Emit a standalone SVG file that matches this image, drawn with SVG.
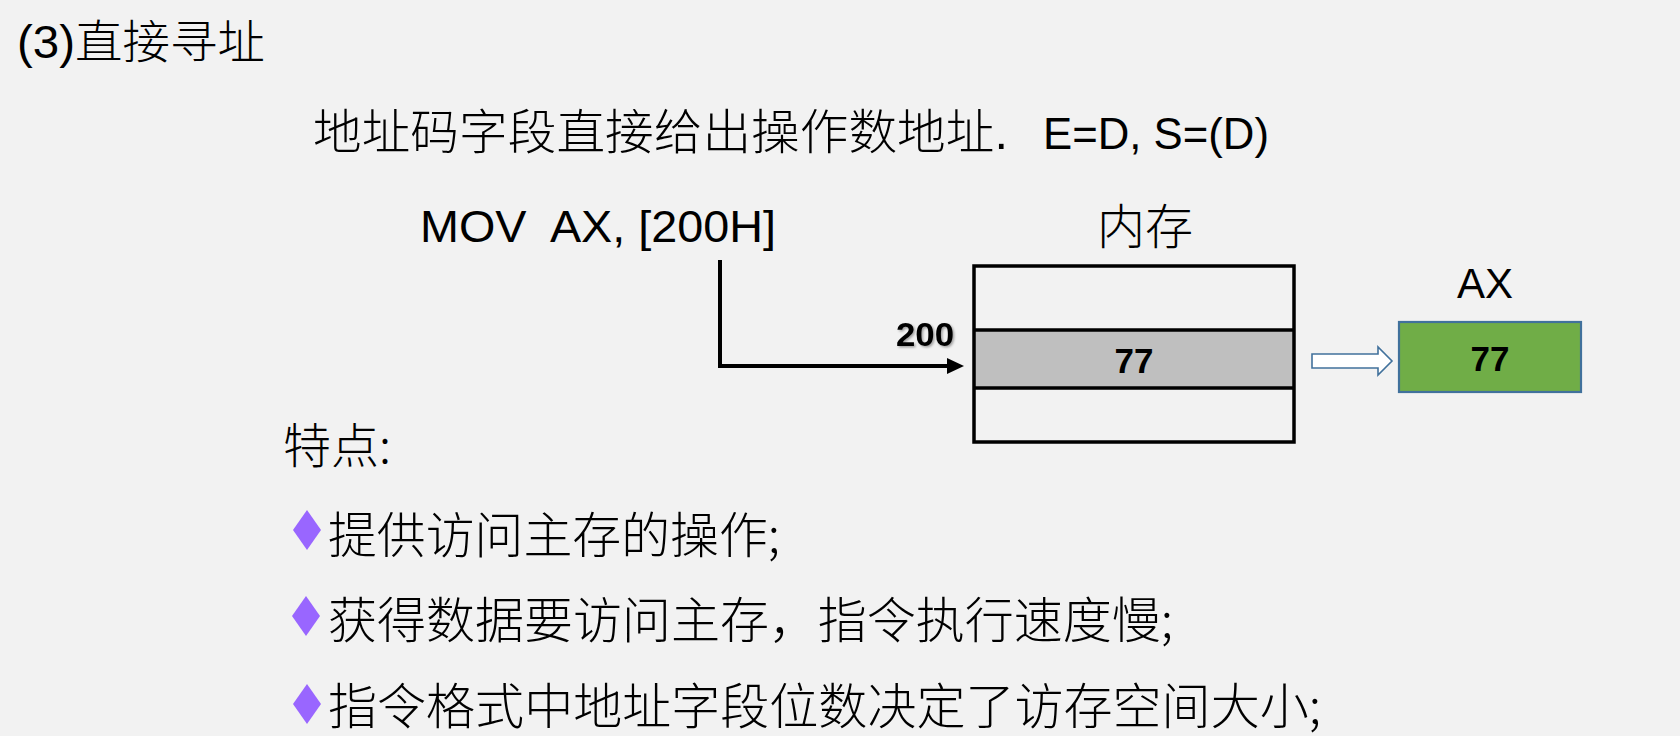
<svg xmlns="http://www.w3.org/2000/svg" width="1680" height="736" viewBox="0 0 1680 736">
<defs>
<style>
.t{font-family:"Liberation Sans","Noto Sans CJK SC",sans-serif;fill:#000;font-weight:300}
.cjk{font-family:"Noto Sans CJK SC","Liberation Sans",sans-serif;fill:#000;font-weight:300}
.num{font-family:"Liberation Sans","Noto Sans CJK SC",sans-serif;font-weight:bold;fill:#000}
.cell{fill:none;stroke:#000;stroke-width:3.5}
.bullet{fill:#9966ff}
</style>
<filter id="sh" x="-10%" y="-10%" width="130%" height="140%">
<feDropShadow dx="1.5" dy="1.5" stdDeviation="1" flood-color="#000" flood-opacity="0.35"/>
</filter>
</defs>
<rect width="1680" height="736" fill="#f2f2f2"/>

<g id="title">
<text class="t" x="17" y="58" font-size="46" textLength="248" lengthAdjust="spacingAndGlyphs">(3)直接寻址</text>
</g>

<g id="desc">
<text class="t" x="313" y="149" font-size="48"><tspan textLength="695" lengthAdjust="spacingAndGlyphs">地址码字段直接给出操作数地址.</tspan><tspan x="1043" font-size="45" textLength="226" lengthAdjust="spacingAndGlyphs">E=D, S=(D)</tspan></text>
</g>

<g id="instr">
<text class="t" x="420" y="242" font-size="45" xml:space="preserve" textLength="356" lengthAdjust="spacingAndGlyphs">MOV  AX, [200H]</text>
</g>

<g id="memory">
<text class="cjk" x="1097" y="244" font-size="48">内存</text>
<rect x="974" y="330" width="320" height="58" fill="#bfbfbf"/>
<rect class="cell" x="974" y="266" width="320" height="176"/>
<line class="cell" x1="974" y1="330" x2="1294" y2="330"/>
<line class="cell" x1="974" y1="388" x2="1294" y2="388"/>
<text class="num" x="1134" y="373" font-size="35" text-anchor="middle">77</text>
</g>

<g id="addr-label">
<text class="num" x="896" y="346" font-size="33" textLength="58" lengthAdjust="spacingAndGlyphs" filter="url(#sh)">200</text>
</g>

<g id="ax">
<text class="t" x="1485" y="298" font-size="42" text-anchor="middle">AX</text>
<rect x="1399" y="322" width="182" height="70" fill="#70ad47" stroke="#41719c" stroke-width="2.2"/>
<text class="num" x="1490" y="371" font-size="35" text-anchor="middle">77</text>
</g>

<g id="connectors">
<path d="M720,260 L720,366 L950,366" fill="none" stroke="#000" stroke-width="4"/>
<path d="M947,358 L964,366 L947,374 Z" fill="#000"/>
<path d="M1312,354 L1378,354 L1378,347 L1392,361 L1378,375 L1378,368 L1312,368 Z" fill="#ffffff" stroke="#41719c" stroke-width="1.6"/>
</g>

<g id="features">
<text class="cjk" x="283" y="463" font-size="48">特点:</text>
<polygon class="bullet" points="307,510 321,530 307,550 293,530"/>
<text class="cjk" x="328" y="553" font-size="49" textLength="452" lengthAdjust="spacingAndGlyphs">提供访问主存的操作;</text>
<polygon class="bullet" points="306,596 320,616 306,636 292,616"/>
<text class="cjk" x="328" y="638" font-size="49" textLength="845" lengthAdjust="spacingAndGlyphs">获得数据要访问主存，指令执行速度慢;</text>
<polygon class="bullet" points="307,684 321,704 307,724 293,704"/>
<text class="cjk" x="328" y="724" font-size="49" textLength="993" lengthAdjust="spacingAndGlyphs">指令格式中地址字段位数决定了访存空间大小;</text>
</g>
</svg>
